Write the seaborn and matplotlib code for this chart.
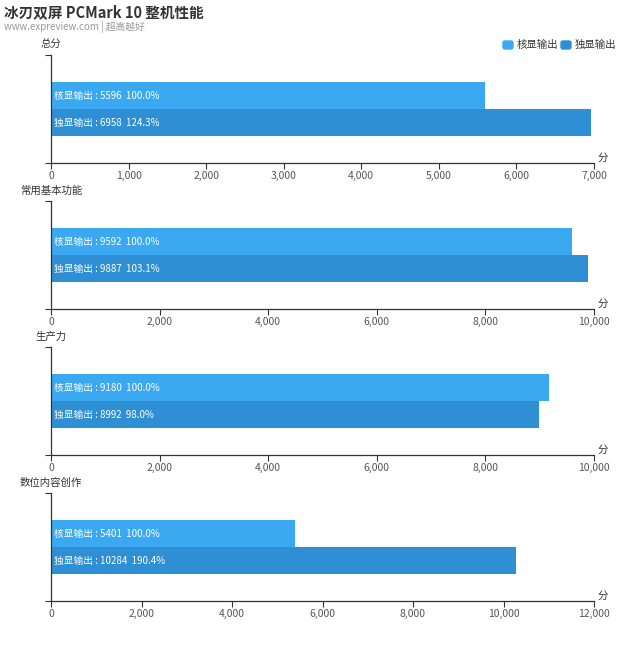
import matplotlib
matplotlib.use('Agg')
import matplotlib.pyplot as plt
import seaborn as sns
import pandas as pd
from matplotlib.patches import FancyBboxPatch

# data
panels = ['总分', '常用基本功能', '生产力', '数位内容创作']
series = ['核显输出', '独显输出']
igpu_scores = [5596, 9592, 9180, 5401]
dgpu_scores = [6958, 9887, 8992, 10284]
igpu_pct = ['100.0%', '100.0%', '100.0%', '100.0%']
dgpu_pct = ['124.3%', '103.1%', '98.0%', '190.4%']
x_max = [7000, 10000, 10000, 12000]
x_step = [1000, 2000, 2000, 2000]

colors = ['#3aa9f2', '#2e8fd4']

sns.set_theme(style='white')
plt.rcParams['font.family'] = ['Noto Sans CJK SC', 'DejaVu Sans']

fig = plt.figure(figsize=(6.4, 6.51), dpi=100)
W, H = 640, 651

# panel axes: left 51px, right 594px, each 108px tall
tops = [55, 201, 347, 493]
for i, name in enumerate(panels):
    top = tops[i]
    ax = fig.add_axes([51 / W, 1 - (top + 108) / H, 543 / W, 108 / H])
    df = pd.DataFrame({
        'series': series,
        'score': [igpu_scores[i], dgpu_scores[i]],
    })
    sns.barplot(data=df, x='score', y='series', hue='series', palette=colors,
                orient='h', width=1.0, legend=False, ax=ax, saturation=1,
                linewidth=0, edgecolor='none')
    ax.set_ylim(2.5, -1.5)
    ax.set_xlim(0, x_max[i])
    ax.set_xticks(range(0, x_max[i] + 1, x_step[i]))
    ax.set_xticklabels([f'{v:,}' for v in range(0, x_max[i] + 1, x_step[i])],
                       fontsize=7.5, color='#555555')
    ax.set_yticks([-1.5, 2.5])
    ax.set_yticklabels([])
    ax.tick_params(axis='x', length=4, width=0.8, color='#333333', pad=2, bottom=True)
    ax.tick_params(axis='y', length=4, width=0.8, color='#333333', left=True)
    ax.set_xlabel('')
    ax.set_ylabel('')
    for s in ['top', 'right']:
        ax.spines[s].set_visible(False)
    for s in ['left', 'bottom']:
        ax.spines[s].set_color('#333333')
        ax.spines[s].set_linewidth(0.9)

    # bar labels
    labels = [f'{series[0]} : {igpu_scores[i]}  {igpu_pct[i]}',
              f'{series[1]} : {dgpu_scores[i]}  {dgpu_pct[i]}']
    for j, lab in enumerate(labels):
        ax.text(x_max[i] * 0.006, j, lab, color='white', fontsize=7,
                va='center', ha='left')

    ax.text(0, 1.0 + 10 / 108, name, transform=ax.transAxes, ha='center',
            va='center', fontsize=7.5, color='#333333')
    ax.text(1.006, 0.005, '分', transform=ax.transAxes, ha='left',
            va='bottom', fontsize=7.5, color='#333333')

# title and subtitle
fig.text(4 / W, 1 - 12 / H, '冰刃双屏 PCMark 10 整机性能', fontsize=10.5,
         fontweight='bold', color='#333333', va='center', ha='left')
fig.text(4 / W, 1 - 27 / H, 'www.expreview.com | 超高越好', fontsize=7,
         color='#999999', va='center', ha='left')

# legend
lx = [503, 561]
for k in range(2):
    fig.patches.append(FancyBboxPatch((lx[k] / W, 1 - 49 / H), 10 / W, 8 / H,
                                      boxstyle='round,pad=0,rounding_size=0.003',
                                      transform=fig.transFigure, color=colors[k]))
    fig.text((lx[k] + 14) / W, 1 - 45 / H, series[k], fontsize=7.5,
             color='#333333', va='center', ha='left')

fig.savefig('out.png', dpi=100)
